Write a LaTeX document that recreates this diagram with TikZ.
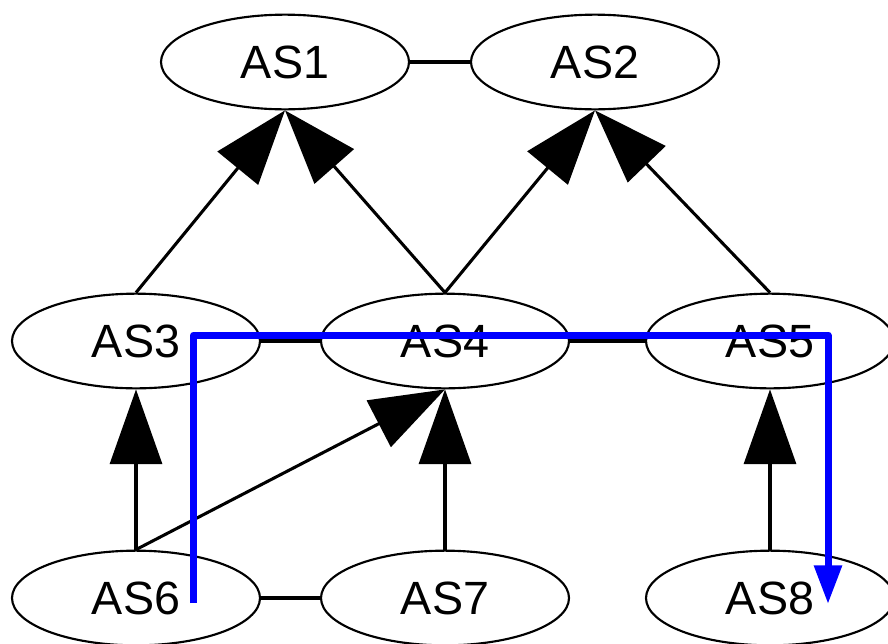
\documentclass[tikz,border=0pt]{standalone}
\usepackage{fontspec}
\setmainfont{Liberation Sans}
\usetikzlibrary{shapes.geometric,arrows.meta}

\begin{document}
\begin{tikzpicture}[x=0.75pt,y=-0.75pt,
  as/.style={ellipse,draw,line width=1.6pt,minimum width=186pt,minimum height=71pt,inner sep=0pt,font=\fontsize{35}{40}\selectfont},
  peer/.style={line width=2.3pt},
  provider/.style={line width=2.3pt,-{Triangle[length=56pt,width=39pt]}},
  route/.style={draw=blue,line width=5.25pt,line join=round,-{Triangle[length=29pt,width=20pt]}}]
\useasboundingbox (0,0) rectangle (888,643);
\node[as] (as1) at (285,62) {AS1};
\node[as] (as2) at (595,62) {AS2};
\node[as] (as3) at (136,341) {AS3};
\node[as] (as4) at (445,341) {AS4};
\node[as] (as5) at (770,341) {AS5};
\node[as] (as6) at (136,598) {AS6};
\node[as] (as7) at (445,598) {AS7};
\node[as] (as8) at (770,598) {AS8};
\draw[peer] (as1) -- (as2);
\draw[peer] (as3) -- (as4);
\draw[peer] (as4) -- (as5);
\draw[peer] (as6) -- (as7);
\draw[provider] (as3.north) -- (as1.south);
\draw[provider] (as4.north) -- (as1.south);
\draw[provider] (as4.north) -- (as2.south);
\draw[provider] (as5.north) -- (as2.south);
\draw[provider] (as6.north) -- (as3.south);
\draw[provider] (as6.north) -- (as4.south);
\draw[provider] (as7.north) -- (as4.south);
\draw[provider] (as8.north) -- (as5.south);
\coordinate (routestart) at (193.5,603);
\coordinate (bendleft) at (193.5,335);
\coordinate (bendright) at (828,335);
\coordinate (routeend) at (828,604);
\draw[route] (routestart) -- (bendleft) -- (bendright) -- (routeend);
\end{tikzpicture}
\end{document}
